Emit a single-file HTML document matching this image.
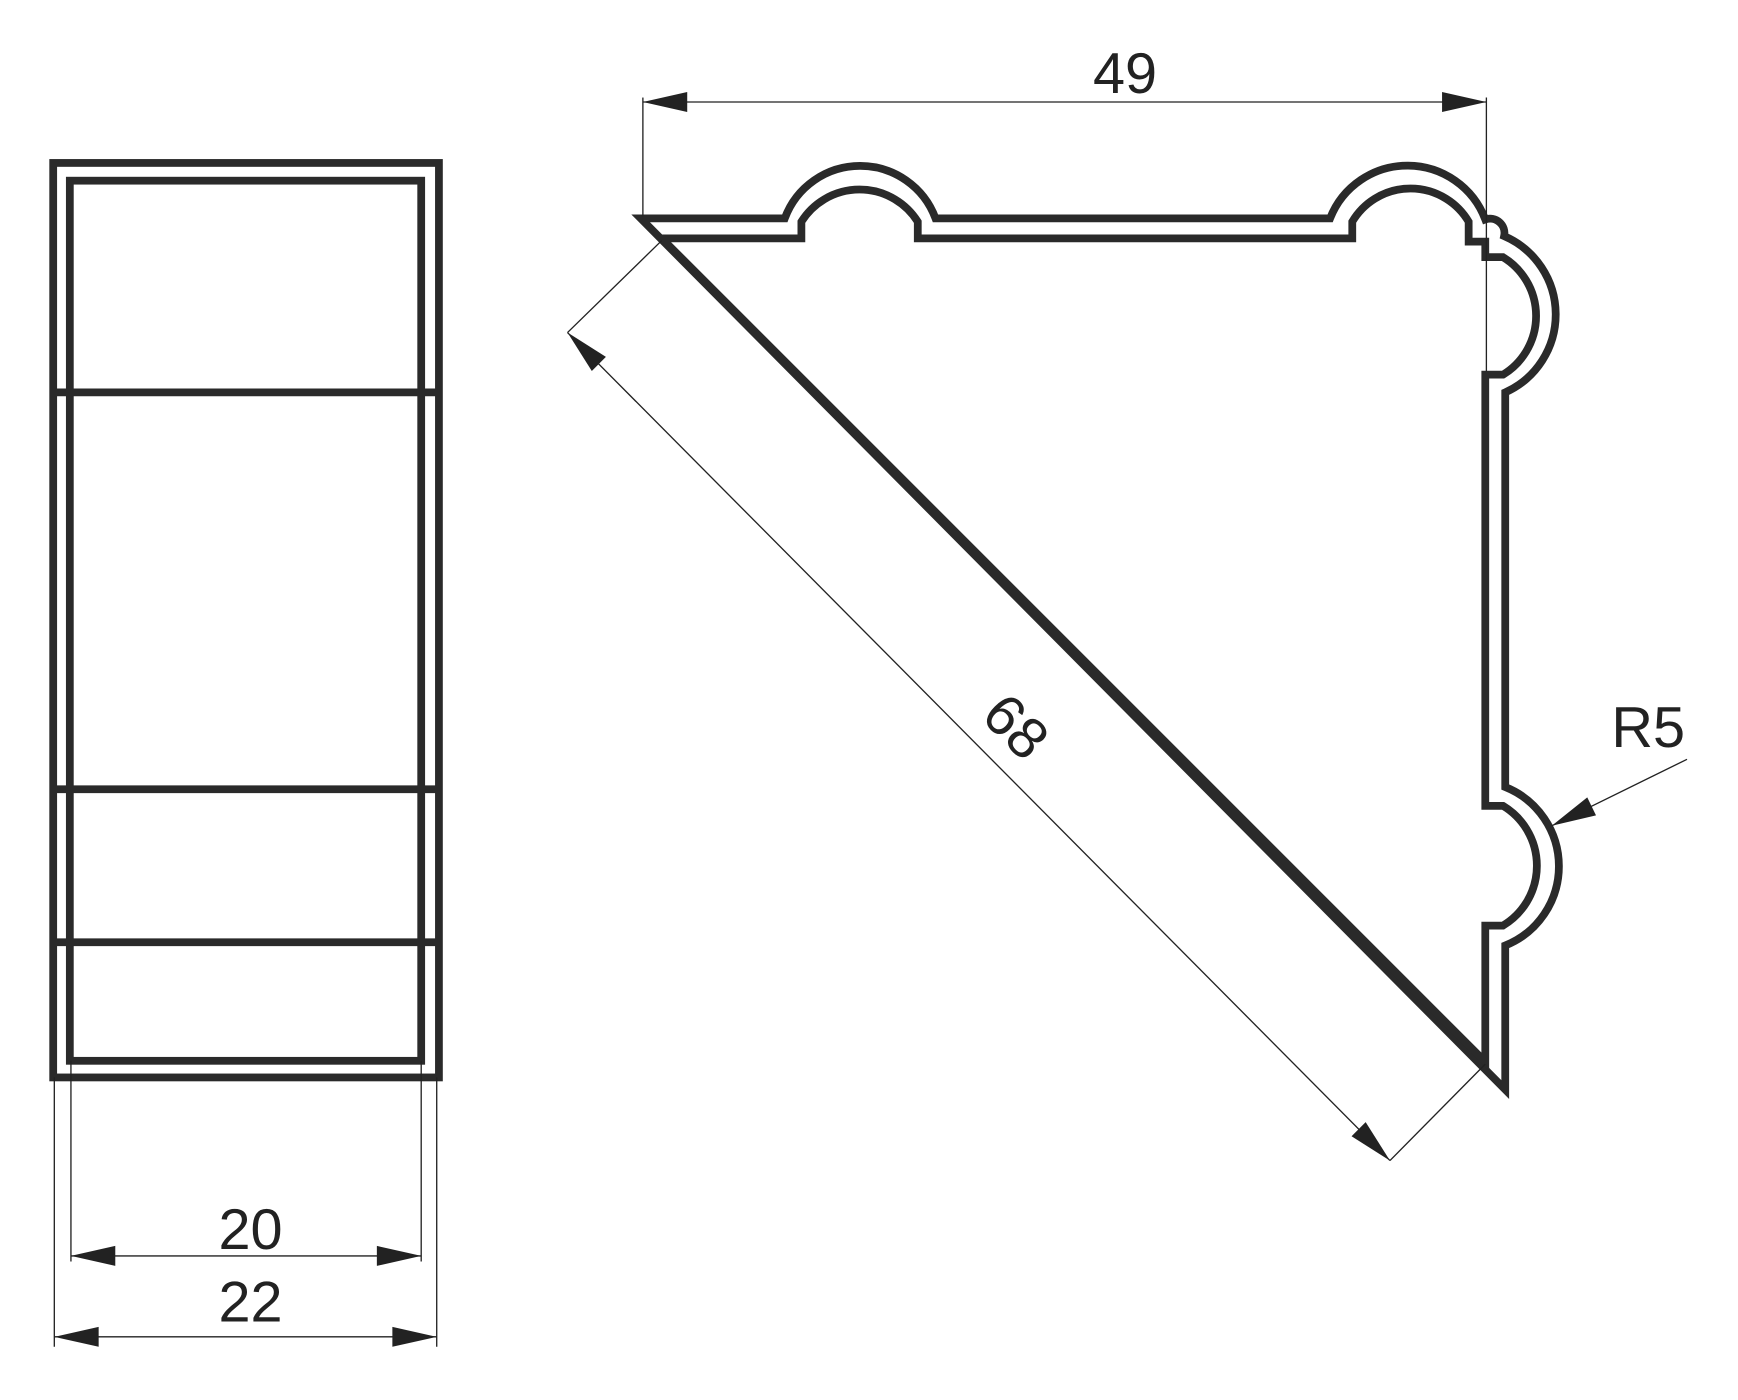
<!DOCTYPE html>
<html><head><meta charset="utf-8"><style>html,body{margin:0;padding:0;background:#fff}svg{display:block}</style></head>
<body>
<svg width="1738" height="1400" viewBox="0 0 1568 1263" preserveAspectRatio="none" xmlns="http://www.w3.org/2000/svg">
<defs><path id="a" d="M0 0 L40 -9 L40 9 Z" fill="#222"/></defs>
<g fill="none" stroke="#2a2a2a" stroke-width="7" stroke-linejoin="miter">
<rect x="48" y="147" width="348" height="825"/>
<rect x="63" y="163" width="317" height="794"/>
<line x1="48" y1="354" x2="396" y2="354"/>
<line x1="48" y1="712" x2="396" y2="712"/>
<line x1="48" y1="850" x2="396" y2="850"/>
<path d="M578 197 L708 197 A72.5 72.5 0 0 1 844 197 L1200 197 A75 75 0 0 1 1340 198 A13 13 0 0 1 1357 213 A77 77 0 0 1 1358 354 L1358 710 A77 77 0 0 1 1358 853 L1358 983 Z"/>
<path d="M597 215 L723 215 L723 200 A62 62 0 0 1 828 200 L828 215 L1220 215 L1220 200 A61 61 0 0 1 1325 200 L1325 218 L1340 218 L1340 232 L1356 232 A62 62 0 0 1 1356 338 L1340 338 L1340 727 L1356 727 A63 63 0 0 1 1356 835 L1340 835 L1340 958 Z"/>
</g>
<g stroke="#222" stroke-width="1.2" fill="none">
<line x1="49" y1="972" x2="49" y2="1215"/><line x1="394" y1="972" x2="394" y2="1215"/>
<line x1="64" y1="957" x2="64" y2="1138"/><line x1="380" y1="957" x2="380" y2="1138"/>
<line x1="64" y1="1133" x2="380" y2="1133"/><line x1="49" y1="1206" x2="394" y2="1206"/>
<line x1="580" y1="92" x2="1341" y2="92"/><line x1="580" y1="88" x2="580" y2="195"/><line x1="1341" y1="88" x2="1341" y2="335"/>
<line x1="597" y1="217" x2="512" y2="300"/><line x1="1340" y1="960" x2="1254" y2="1047"/>
<line x1="512" y1="300" x2="1254" y2="1047"/>
<line x1="1400" y1="745" x2="1522" y2="685"/>
</g>
<use href="#a" transform="translate(64,1133)"/><use href="#a" transform="translate(380,1133) rotate(180)"/>
<use href="#a" transform="translate(49,1206)"/><use href="#a" transform="translate(394,1206) rotate(180)"/>
<use href="#a" transform="translate(580,92)"/><use href="#a" transform="translate(1341,92) rotate(180)"/>
<use href="#a" transform="translate(512,300) rotate(45)"/><use href="#a" transform="translate(1254,1047) rotate(225)"/>
<use href="#a" transform="translate(1400,745) rotate(-26)"/>
<g font-family="Liberation Sans, sans-serif" font-size="52" fill="#222" text-anchor="middle">
<text x="226" y="1127">20</text>
<text x="226" y="1192">22</text>
<text x="1015" y="84">49</text>
<text x="1487" y="674">R5</text>
<text x="0" y="0" transform="translate(904,668) rotate(45)">68</text>
</g>
</svg>
</body></html>
